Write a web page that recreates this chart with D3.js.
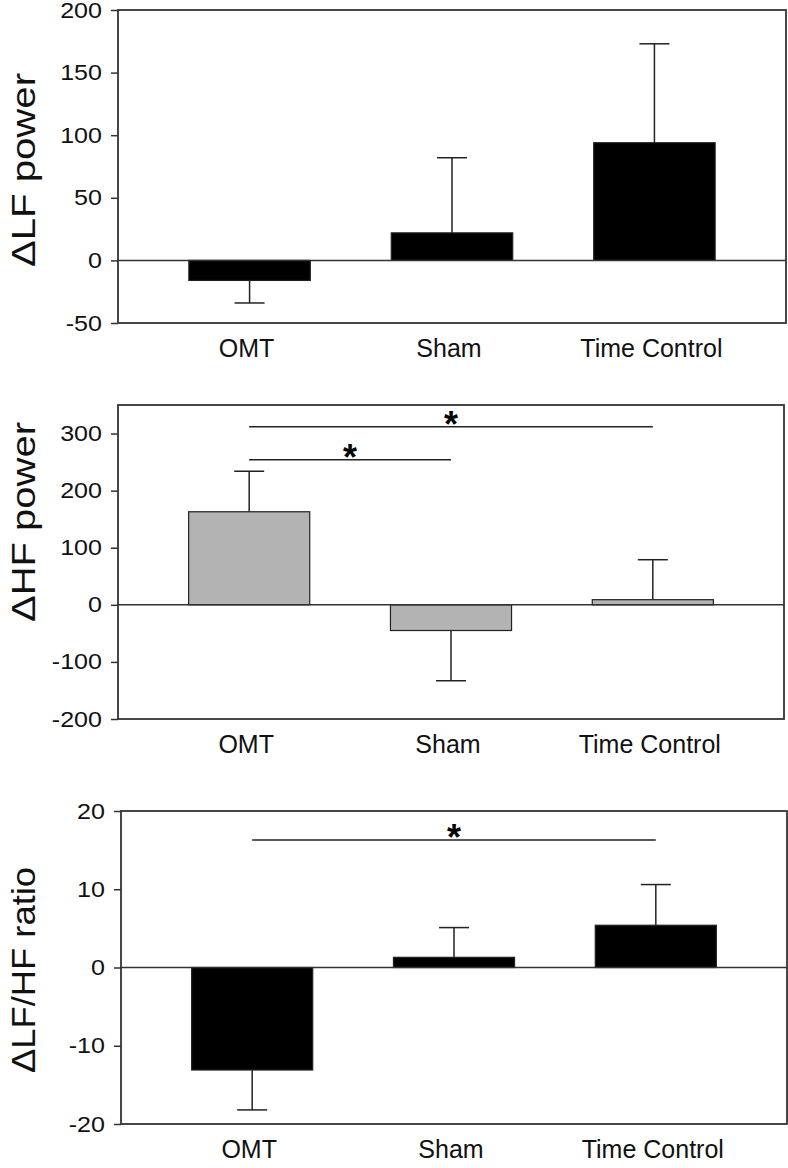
<!DOCTYPE html>
<html>
<head>
<meta charset="utf-8">
<script src="https://cdn.jsdelivr.net/npm/d3@7"></script>
<style>
  body { margin: 0; background: #fff; }
  svg { display: block; font-family: "Liberation Sans", Arial, sans-serif; }
</style>
</head>
<body>
<svg id="chart" width="788" height="1168"></svg>
<script>
// groups shared by all three panels
const categories = ["OMT", "Sham", "Time Control"];

// delta LF power: mean and SE (error bar drawn away from zero)
const lfMean = [-16, 22, 94];
const lfSE = [18, 60, 79];
const lfTicks = [-50, 0, 50, 100, 150, 200];

// delta HF power
const hfMean = [163, -45, 9];
const hfSE = [71, 88, 70];
const hfTicks = [-200, -100, 0, 100, 200, 300];
// [from group, to group, height] of the significance bars
const hfSig = [[0, 2, 312], [0, 1, 254]];

// delta LF/HF ratio
const ratioMean = [-13.1, 1.3, 5.4];
const ratioSE = [5.1, 3.8, 5.2];
const ratioTicks = [-20, -10, 0, 10, 20];
const ratioSig = [[0, 2, 16.3]];

const svg = d3.select("#chart");

const panels = [
  { title: "\u0394LF power", mean: lfMean, se: lfSE, ticks: lfTicks, domain: [-50, 200],
    sig: [], fill: "#000", left: 118, right: 786, top: 10, bottom: 323,
    titleY: 170, titleLen: 194 },
  { title: "\u0394HF power", mean: hfMean, se: hfSE, ticks: hfTicks, domain: [-200, 350],
    sig: hfSig, fill: "#b3b3b3", left: 118, right: 784, top: 405, bottom: 719,
    titleY: 522, titleLen: 200 },
  { title: "\u0394LF/HF ratio", mean: ratioMean, se: ratioSE, ticks: ratioTicks, domain: [-20, 20],
    sig: ratioSig, fill: "#000", left: 121, right: 787, top: 811, bottom: 1124,
    titleY: 970, titleLen: 206 }
];

panels.forEach((p) => {
  const x = d3.scaleBand()
    .domain(categories)
    .range([p.left, p.right])
    .paddingInner(0.4)
    .paddingOuter(0.35);
  const y = d3.scaleLinear().domain(p.domain).range([p.bottom, p.top]);

  const g = svg.append("g");

  // y axis with outward ticks, plain hyphen for negatives
  const yAxis = g.append("g")
    .attr("transform", `translate(${p.left},0)`)
    .call(d3.axisLeft(y).tickValues(p.ticks).tickSize(7).tickPadding(9).tickFormat((d) => String(d)));
  yAxis.select(".domain").remove();
  yAxis.selectAll("line").attr("stroke", "#333").attr("stroke-width", 1.5);
  yAxis.selectAll("text")
    .attr("font-size", 22)
    .attr("fill", "#111")
    .style("font-family", "Liberation Sans, Arial, sans-serif")
    .each(function () {
      // the original labels run a little wider than Arial
      const w = this.getComputedTextLength();
      d3.select(this).attr("textLength", w * 1.14).attr("lengthAdjust", "spacingAndGlyphs");
    });

  // frame
  g.append("rect")
    .attr("x", p.left)
    .attr("y", p.top)
    .attr("width", p.right - p.left)
    .attr("height", p.bottom - p.top)
    .attr("fill", "none")
    .attr("stroke", "#333")
    .attr("stroke-width", 1.8);

  const bars = g.append("g")
    .selectAll("g")
    .data(categories.map((c, i) => ({ cat: c, mean: p.mean[i], se: p.se[i] })))
    .join("g");

  const cx = (d) => x(d.cat) + x.bandwidth() / 2;
  const tip = (d) => y(d.mean + Math.sign(d.mean) * d.se);

  // error bars, one-sided, away from zero
  bars.append("line")
    .attr("x1", cx)
    .attr("x2", cx)
    .attr("y1", (d) => y(d.mean))
    .attr("y2", tip)
    .attr("stroke", "#222")
    .attr("stroke-width", 1.5);
  bars.append("line")
    .attr("x1", (d) => cx(d) - 15)
    .attr("x2", (d) => cx(d) + 15)
    .attr("y1", tip)
    .attr("y2", tip)
    .attr("stroke", "#222")
    .attr("stroke-width", 1.5);

  bars.append("rect")
    .attr("x", (d) => x(d.cat))
    .attr("width", x.bandwidth())
    .attr("y", (d) => y(Math.max(0, d.mean)))
    .attr("height", (d) => Math.abs(y(d.mean) - y(0)))
    .attr("fill", p.fill)
    .attr("stroke", "#222")
    .attr("stroke-width", 1.2);

  // zero line across the frame
  g.append("line")
    .attr("x1", p.left)
    .attr("x2", p.right)
    .attr("y1", y(0))
    .attr("y2", y(0))
    .attr("stroke", "#333")
    .attr("stroke-width", 1.5);

  // significance bars and stars
  p.sig.forEach(([a, b, h]) => {
    const x1 = x(categories[a]) + x.bandwidth() / 2;
    const x2 = x(categories[b]) + x.bandwidth() / 2;
    g.append("line")
      .attr("x1", x1).attr("x2", x2)
      .attr("y1", y(h)).attr("y2", y(h))
      .attr("stroke", "#222")
      .attr("stroke-width", 1.5);
    g.append("text")
      .attr("x", (x1 + x2) / 2)
      .attr("y", y(h) + 10)
      .attr("text-anchor", "middle")
      .attr("font-size", 36)
      .attr("font-weight", "bold")
      .text("*");
  });

  // category labels
  g.append("g")
    .selectAll("text")
    .data(categories)
    .join("text")
    .attr("x", (d) => x(d) + x.bandwidth() / 2 - 3)
    .attr("y", p.bottom + 34)
    .attr("text-anchor", "middle")
    .attr("font-size", 25)
    .attr("fill", "#111")
    .text((d) => d);

  // y title
  g.append("text")
    .attr("transform", `translate(35,${p.titleY}) rotate(-90)`)
    .attr("text-anchor", "middle")
    .attr("font-size", 33)
    .attr("textLength", p.titleLen)
    .attr("lengthAdjust", "spacingAndGlyphs")
    .attr("fill", "#111")
    .text(p.title);
});
</script>
</body>
</html>
